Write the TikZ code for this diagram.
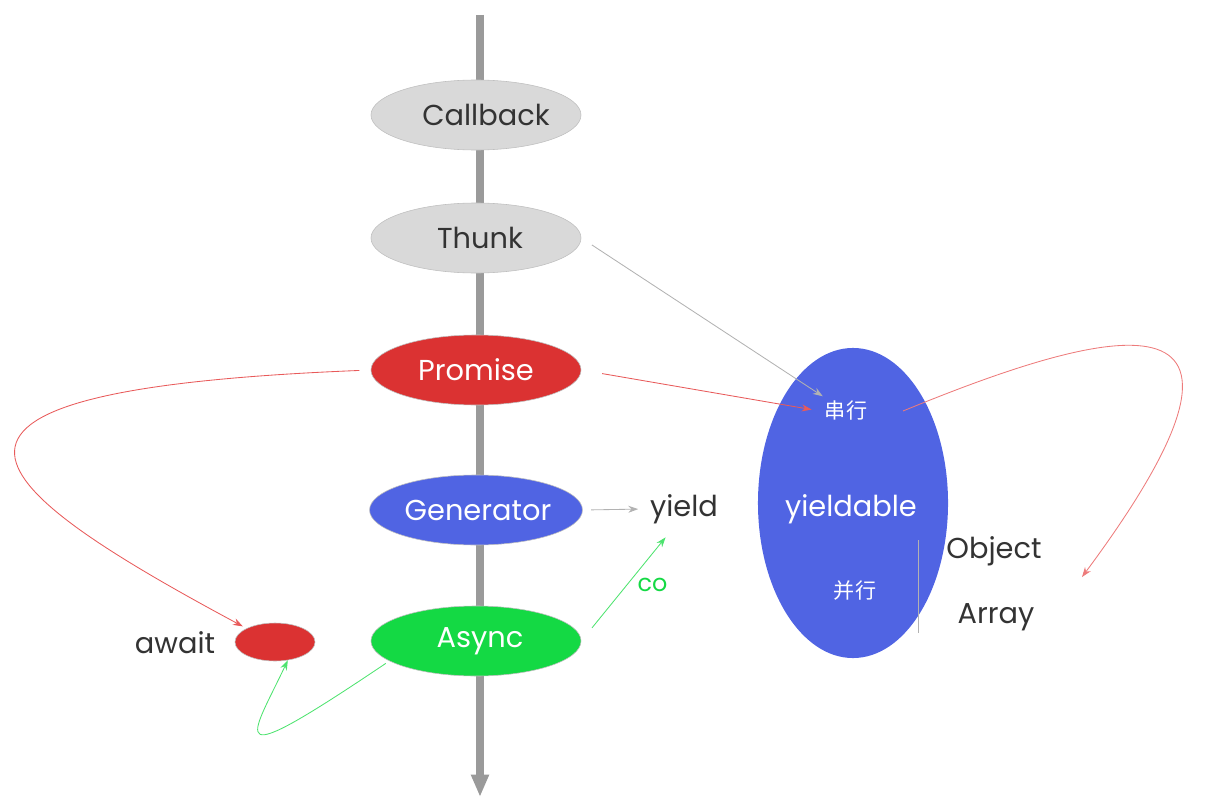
\documentclass[tikz,border=0pt]{standalone}
\usepackage{fontspec}
\setmainfont{Poppins}
\newfontfamily\cjk{Noto Sans CJK SC}
\usetikzlibrary{arrows.meta,shapes.geometric}
\definecolor{axisgray}{HTML}{9A9A9A}
\definecolor{lightfill}{HTML}{D9D9D9}
\definecolor{promred}{HTML}{DB3232}
\definecolor{genblue}{HTML}{5064E3}
\definecolor{asyncgreen}{HTML}{14D944}
\definecolor{txt}{HTML}{333333}
\definecolor{linkred}{HTML}{E85A5A}
\definecolor{linkgreen}{HTML}{4DE36E}
\tikzset{
	stage/.style={ellipse, draw=black!25, line width=0.4pt, minimum width=5.25cm, minimum height=1.75cm, inner sep=0pt, font=\fontsize{20.5}{23}\selectfont},
	word/.style={text=txt, font=\fontsize{20.5}{23}\selectfont},
	link/.style={line width=0.6pt, -{Stealth[length=7pt,width=5pt]}},
}
\begin{document}
\begin{tikzpicture}[x=0.025cm, y=-0.025cm]
			%%%%% START %%%%%
			\useasboundingbox (0, 0) rectangle (1210, 808);
			
			% time axis
			\coordinate (axistop) at (480, 15);
			\coordinate (axisend) at (480, 797);
			\draw[axisgray, line width=5pt, -{Triangle[length=16pt,width=12pt]}] (axistop) -- (axisend);
			
			\node[stage, fill=lightfill, text=txt] (callback) at (476, 115) {\hspace*{0.5cm}Callback};
			\node[stage, fill=lightfill, text=txt] (thunk) at (476, 238) {\hspace*{0.2cm}Thunk};
			\node[stage, fill=promred, text=white] (promise) at (476, 370) {Promise};
			\node[stage, fill=genblue, text=white] (generator) at (476, 510) {\hspace*{0.1cm}Generator};
			\node[stage, fill=asyncgreen, text=white] (async) at (476, 641) {\hspace*{0.2cm}Async};
			
			\node[ellipse, draw=black!25, fill=promred, minimum width=2cm, minimum height=0.95cm] (await) at (275, 642) {};
			\node[word] (awaitlabel) at (175, 643) {await};
			\node[word] (yield) at (684, 509) {yield};
			
			\node[ellipse, fill=genblue, minimum width=4.75cm, minimum height=7.75cm] (yieldable) at (853, 503) {};
			\node[text=white, font=\cjk\fontsize{15}{18}\selectfont] (serial) at (846, 411) {串行};
			\node[text=white, font=\fontsize{20.5}{23}\selectfont] (yieldabletext) at (851, 509) {yieldable};
			\node[text=white, font=\cjk\fontsize{15}{18}\selectfont] (parallel) at (855, 591) {并行};
			\draw[black!30, line width=0.6pt] (918, 540) -- (918, 633);
			\node[word] (object) at (994, 551) {Object};
			\node[word] (array) at (996, 617) {Array};
			\coordinate (loopend) at (1082, 577);
			
			% links
			\draw[link, black!30, shorten <=9pt] (thunk.east) -- ([xshift=2pt]serial.north west);
			\draw[link, linkred, shorten <=15pt, shorten >=6pt] (promise.east) -- (serial.west);
			\draw[link, black!30, shorten <=6pt, shorten >=5pt] (generator.east) -- (yield.west);
			\draw[link, linkgreen, shorten <=12pt, shorten >=8pt] (async.east) -- node[right=4pt, pos=.5, text=asyncgreen, font=\fontsize{17}{19}\selectfont] (colabel) {co} (yield.-120);
			\draw[link, linkred, shorten <=8pt, shorten >=3pt] (promise.west) .. controls (-130, 390) and (-30, 480) .. (await.north west);
			\draw[link, linkgreen, shorten <=3pt] (async.193) .. controls (220, 775) and (250, 740) .. (await.-55);
			\draw[link, linkred!80] ([xshift=22pt]serial.east) .. controls (1100, 330) and (1310, 270) .. (loopend);
			
			%%%%% END %%%%%
\end{tikzpicture}
\end{document}
